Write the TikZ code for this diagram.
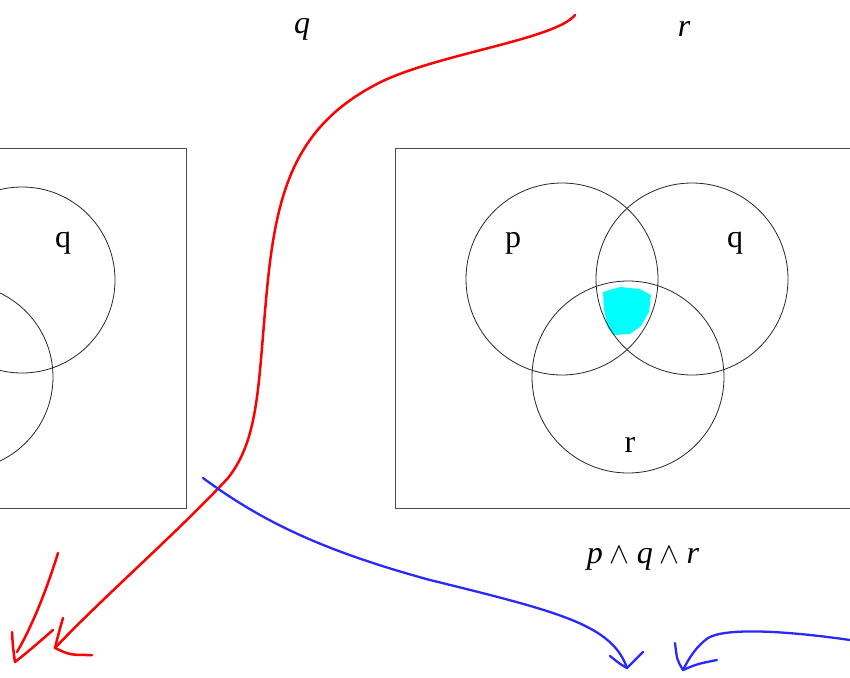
\documentclass[tikz,border=0pt]{standalone}
\usepackage{fontspec}
\setmainfont{Liberation Serif}
\definecolor{aqua}{RGB}{0,255,255}
\definecolor{penred}{RGB}{255,0,0}
\definecolor{penblue}{RGB}{40,40,255}
\newcommand{\myand}{\hspace{7pt}\scalebox{1.2}{$\wedge$}\hspace{7pt}}
\begin{document}
\begin{tikzpicture}[x=1pt,y=-1pt,
  boxline/.style={draw=black!70,line width=0.9pt},
  circ/.style={draw=black!85,line width=0.8pt},
  lbl/.style={font=\fontsize{32}{34}\selectfont,inner sep=0pt},
  redpen/.style={draw=penred,line width=2.5pt,line cap=round,line join=round},
  bluepen/.style={draw=penblue,line width=2.3pt,line cap=round,line join=round}]
\useasboundingbox (0,0) rectangle (850,677);
\clip (0,0) rectangle (850,677);
% left box
\draw[boxline] (-20,148) rectangle (186,508);
\draw[circ] (22,280) circle (93);
\draw[circ] (-40,377) circle (93);
\node[lbl] (lq) at (63,243) {q};
% right box
\draw[boxline] (395,148) rectangle (870,508);
\fill[aqua] (603,292) -- (620,287) -- (640,289) -- (651,295) -- (649,312) -- (641,326) -- (630,334) -- (614,335) -- (608,328) -- (604,310) -- cycle;
\draw[circ] (562,279) circle (96);
\draw[circ] (692,279) circle (96);
\draw[circ] (628,377) circle (96);
\node[lbl] (rp) at (513,243) {p};
\node[lbl] (rq) at (735,243) {q};
\node[lbl] (rr) at (630,445) {r};
% top labels
\node[lbl] (tq) at (302,29) {\itshape q};
\node[lbl] (tr) at (684,29) {\itshape r};
\node[lbl] (f) at (643,559) {\itshape p\myand q\myand r};
% red strokes
\coordinate (rs) at (575,15);
\coordinate (rt) at (55,648);
\draw[redpen] (rs) .. controls (555,40) and (430,55) .. (375,85)
  .. controls (290,130) and (275,200) .. (266,300)
  .. controls (258,390) and (258,440) .. (228,478)
  .. controls (180,530) and (100,600) .. (rt);
\draw[redpen] (63,618) .. controls (59,632) .. (rt) .. controls (70,655) .. (92,655);
\coordinate (ls) at (58,553);
\coordinate (lt) at (15,662);
\draw[redpen] (ls) .. controls (45,595) and (30,630) .. (17,652);
\draw[redpen] (12,632) .. controls (13,648) .. (lt) .. controls (30,650) .. (53,630);
% blue strokes
\coordinate (bs) at (203,478);
\coordinate (bt) at (627,668);
\draw[bluepen] (bs) .. controls (260,520) and (320,550) .. (430,580)
  .. controls (560,612) and (612,625) .. (bt);
\draw[bluepen] (610,656) .. controls (620,664) .. (bt) .. controls (635,660) .. (643,652);
\coordinate (cs) at (850,640);
\coordinate (ct) at (683,670);
\draw[bluepen] (cs) .. controls (780,630) and (725,628) .. (708,638)
  .. controls (697,646) and (690,656) .. (ct);
\draw[bluepen] (675,643) .. controls (677,660) .. (ct) .. controls (697,664) .. (717,660);
\end{tikzpicture}
\end{document}
